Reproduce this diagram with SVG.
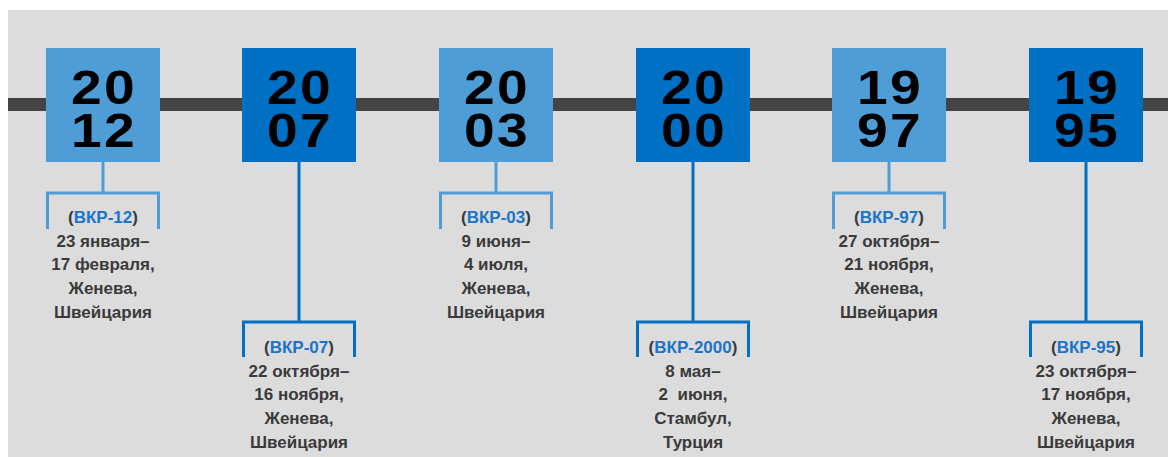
<svg xmlns="http://www.w3.org/2000/svg" width="1168" height="457" viewBox="0 0 1168 457">
<style>
.bg{fill:#dcdcdc}
.bar{fill:#444444}
.lb{fill:#4e9dd7}
.db{fill:#0070c4}
.yr{font-family:"Liberation Sans",Arial,sans-serif;font-weight:bold;font-size:48px;letter-spacing:2px;fill:#000;text-anchor:middle}
.t{font-family:"Liberation Sans",Arial,sans-serif;font-weight:bold;font-size:17px;fill:#3a3a3a;text-anchor:middle}
.k{fill:#1b74c8}
.cl{fill:none;stroke:#4e9dd7;stroke-width:3}
.cd{fill:none;stroke:#0070c4;stroke-width:3}
</style>
<rect class="bg" x="8" y="10" width="1160" height="447"/>
<rect class="bar" x="8" y="98" width="1160" height="13"/>
<g id="connectors">
<path class="cl" d="M103 162V193M47.5 229V193H158.5V229"/>
<path class="cd" d="M299 162V322M243.5 357V322H354.5V357"/>
<path class="cl" d="M496 162V193M440.5 229V193H551.5V229"/>
<path class="cd" d="M693 162V322M637.5 357V322H748.5V357"/>
<path class="cl" d="M889 162V193M833.5 229V193H944.5V229"/>
<path class="cd" d="M1086 162V322M1030.5 357V322H1141.5V357"/>
</g>
<g id="n2012">
<rect class="lb" x="46" y="48" width="114" height="114"/>
<text class="yr" transform="translate(104 0) scale(1.15 1)"><tspan x="0" y="104">20</tspan><tspan x="0" y="147">12</tspan></text>
<text class="t" x="103" y="223">(<tspan class="k">ВКР-12</tspan>)</text>
<text class="t" x="103" y="247">23 января–</text>
<text class="t" x="103" y="270">17 февраля,</text>
<text class="t" x="103" y="294">Женева,</text>
<text class="t" x="103" y="318">Швейцария</text>
</g>
<g id="n2007">
<rect class="db" x="242" y="48" width="114" height="114"/>
<text class="yr" transform="translate(300 0) scale(1.15 1)"><tspan x="0" y="104">20</tspan><tspan x="0" y="147">07</tspan></text>
<text class="t" x="299" y="353">(<tspan class="k">ВКР-07</tspan>)</text>
<text class="t" x="299" y="377">22 октября–</text>
<text class="t" x="299" y="400">16 ноября,</text>
<text class="t" x="299" y="424">Женева,</text>
<text class="t" x="299" y="448">Швейцария</text>
</g>
<g id="n2003">
<rect class="lb" x="439" y="48" width="114" height="114"/>
<text class="yr" transform="translate(497 0) scale(1.15 1)"><tspan x="0" y="104">20</tspan><tspan x="0" y="147">03</tspan></text>
<text class="t" x="496" y="223">(<tspan class="k">ВКР-03</tspan>)</text>
<text class="t" x="496" y="247">9 июня–</text>
<text class="t" x="496" y="270">4 июля,</text>
<text class="t" x="496" y="294">Женева,</text>
<text class="t" x="496" y="318">Швейцария</text>
</g>
<g id="n2000">
<rect class="db" x="636" y="48" width="114" height="114"/>
<text class="yr" transform="translate(694 0) scale(1.15 1)"><tspan x="0" y="104">20</tspan><tspan x="0" y="147">00</tspan></text>
<text class="t" x="693" y="353">(<tspan class="k">ВКР-2000</tspan>)</text>
<text class="t" x="693" y="377">8 мая–</text>
<text class="t" x="693" y="400" style="white-space:pre">2  июня,</text>
<text class="t" x="693" y="424">Стамбул,</text>
<text class="t" x="693" y="448">Турция</text>
</g>
<g id="n1997">
<rect class="lb" x="832" y="48" width="114" height="114"/>
<text class="yr" transform="translate(890 0) scale(1.15 1)"><tspan x="0" y="104">19</tspan><tspan x="0" y="147">97</tspan></text>
<text class="t" x="889" y="223">(<tspan class="k">ВКР-97</tspan>)</text>
<text class="t" x="889" y="247">27 октября–</text>
<text class="t" x="889" y="270">21 ноября,</text>
<text class="t" x="889" y="294">Женева,</text>
<text class="t" x="889" y="318">Швейцария</text>
</g>
<g id="n1995">
<rect class="db" x="1029" y="48" width="114" height="114"/>
<text class="yr" transform="translate(1087 0) scale(1.15 1)"><tspan x="0" y="104">19</tspan><tspan x="0" y="147">95</tspan></text>
<text class="t" x="1086" y="353">(<tspan class="k">ВКР-95</tspan>)</text>
<text class="t" x="1086" y="377">23 октября–</text>
<text class="t" x="1086" y="400">17 ноября,</text>
<text class="t" x="1086" y="424">Женева,</text>
<text class="t" x="1086" y="448">Швейцария</text>
</g>
</svg>
